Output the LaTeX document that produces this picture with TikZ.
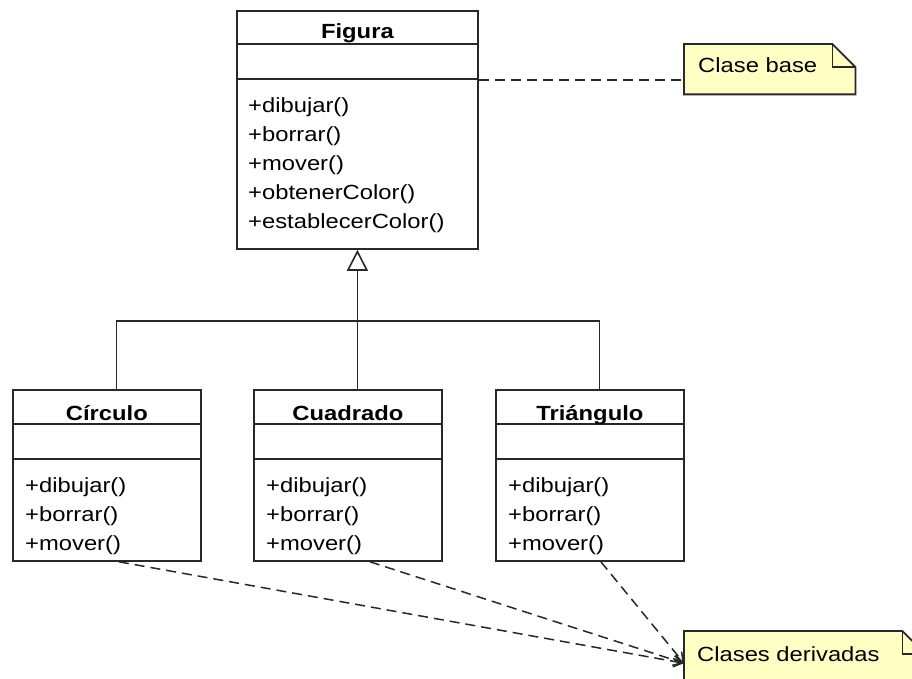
\documentclass[tikz,border=0pt]{standalone}
\usepackage{fontspec}
\newfontfamily\umlfont[FakeStretch=1.16]{Liberation Sans}
\usetikzlibrary{arrows.meta,positioning}
\definecolor{notefill}{RGB}{255,255,196}
\definecolor{umlline}{RGB}{40,40,40}
\tikzset{
classbox/.style  = {draw=umlline, line width=1.8pt, rectangle, anchor=north west, inner sep=0pt},
classname/.style = {font=\umlfont\bfseries\fontsize{20.5}{24}\selectfont, anchor=base, inner sep=0pt},
ops/.style       = {font=\umlfont\fontsize{20.5}{29}\selectfont, align=left, anchor=north west, inner sep=0pt},
note/.style      = {anchor=north west, inner sep=0pt, minimum width=171, minimum height=50},
notebox/.style   = {draw=umlline, line width=1.8pt, fill=notefill},
notetext/.style  = {font=\umlfont\fontsize{20.5}{24}\selectfont, anchor=base west, inner sep=0pt},
tree/.style      = {draw=umlline, line width=1.7pt},
gen/.style       = {tree, -{Triangle[open, length=21pt, width=21pt, line width=1.6pt]}},
link/.style      = {draw=umlline, line width=1.5pt, dash pattern=on 10pt off 6pt},
dep/.style       = {link, -{Straight Barb[length=9pt, width=11pt, line width=1.5pt]}}
}

\begin{document}
\begin{tikzpicture}[x=1pt, y=-1pt]
  \clip (0,0) rectangle (912,679);

  % classes
  \node [classbox, minimum width=241, minimum height=238] (figura)    at (236,10)  {};
  \node [classbox, minimum width=188, minimum height=171] (circulo)   at (12,389)  {};
  \node [classbox, minimum width=188, minimum height=171] (cuadrado)  at (253,389) {};
  \node [classbox, minimum width=188, minimum height=171] (triangulo) at (495,389) {};

  \draw [tree] ([yshift=-34]figura.north west) -- ([yshift=-34]figura.north east);
  \draw [tree] ([yshift=-69]figura.north west) -- ([yshift=-69]figura.north east);
  \draw [tree] ([yshift=-35]circulo.north west) -- ([yshift=-35]circulo.north east);
  \draw [tree] ([yshift=-70]circulo.north west) -- ([yshift=-70]circulo.north east);
  \draw [tree] ([yshift=-35]cuadrado.north west) -- ([yshift=-35]cuadrado.north east);
  \draw [tree] ([yshift=-70]cuadrado.north west) -- ([yshift=-70]cuadrado.north east);
  \draw [tree] ([yshift=-35]triangulo.north west) -- ([yshift=-35]triangulo.north east);
  \draw [tree] ([yshift=-70]triangulo.north west) -- ([yshift=-70]triangulo.north east);

  \node [classname] (figuraname)    at ([yshift=-29]figura.north)    {Figura};
  \node [classname] (circuloname)   at ([yshift=-31]circulo.north)   {Círculo};
  \node [classname] (cuadradoname)  at ([yshift=-31]cuadrado.north)  {Cuadrado};
  \node [classname] (trianguloname) at ([yshift=-31]triangulo.north) {Triángulo};

  \node [ops] (figuraops)    at ([xshift=12,yshift=-87]figura.north west)
        {+dibujar()\\+borrar()\\+mover()\\+obtenerColor()\\+establecerColor()};
  \node [ops] (circuloops)   at ([xshift=13,yshift=-88]circulo.north west)   {+dibujar()\\+borrar()\\+mover()};
  \node [ops] (cuadradoops)  at ([xshift=13,yshift=-88]cuadrado.north west)  {+dibujar()\\+borrar()\\+mover()};
  \node [ops] (trianguloops) at ([xshift=13,yshift=-88]triangulo.north west) {+dibujar()\\+borrar()\\+mover()};

  % generalization
  \coordinate (split) at (356.5,321);
  \draw [gen]  ([xshift=9.5]cuadrado.north) -- (figura.south);
  \draw [tree] ([xshift=9.5]circulo.north) |- (split) -| ([xshift=9.5]triangulo.north);

  % notes
  \node [note] (base) at (684,44) {};
  \filldraw [notebox] (base.north west) -- ([xshift=-23]base.north east) -- ([yshift=-23]base.north east)
        -- (base.south east) -- (base.south west) -- cycle;
  \draw [notebox, fill=none] ([xshift=-23]base.north east) |- ([yshift=-23]base.north east);
  \node [notetext] (basetext) at ([xshift=14,yshift=-29]base.north west) {Clase base};

  \node [note, minimum width=241, minimum height=64] (derivadas) at (684,631) {};
  \filldraw [notebox] (derivadas.north west) -- ([xshift=-23]derivadas.north east) -- ([yshift=-23]derivadas.north east)
        -- (derivadas.south east) -- (derivadas.south west) -- cycle;
  \draw [notebox, fill=none] ([xshift=-23]derivadas.north east) |- ([yshift=-23]derivadas.north east);
  \node [notetext] (derivadastext) at ([xshift=13,yshift=-30]derivadas.north west) {Clases derivadas};

  \coordinate (baselink) at ([yshift=-70]figura.north east);
  \draw [link] (baselink) -- (baselink -| base.west);
  \draw [dep] ([xshift=12]circulo.south)   -- (derivadas.west);
  \draw [dep] ([xshift=22]cuadrado.south)  -- (derivadas.west);
  \draw [dep] ([xshift=11]triangulo.south) -- (derivadas.west);
\end{tikzpicture}
\end{document}
